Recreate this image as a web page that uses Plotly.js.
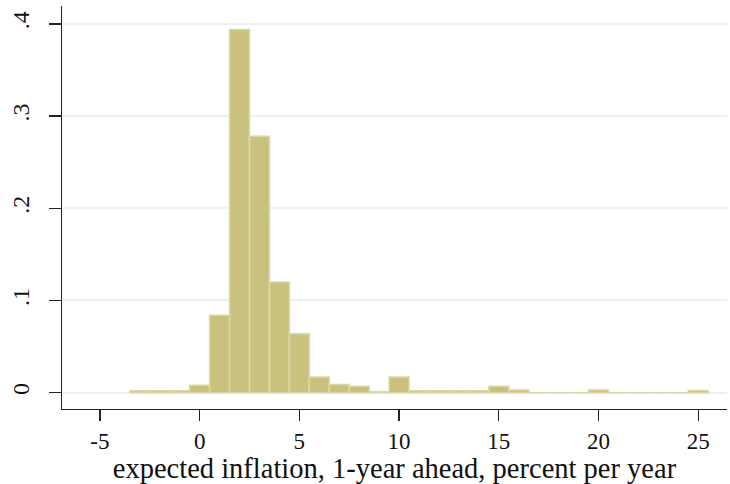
<!DOCTYPE html>
<html>
<head>
<meta charset="utf-8">
<script src="https://cdn.plot.ly/plotly-3.0.1.min.js"></script>
<style>html,body{margin:0;padding:0;background:#fff;}#chart{width:730px;height:484px;}</style>
</head>
<body>
<div id="chart"></div>
<script>
// bin centers (width 1) and density values
const binCenters = [-3, -2, -1, 0, 1, 2, 3, 4, 5, 6, 7, 8, 9, 10, 11, 12, 13, 14, 15, 16, 17, 18, 19, 20, 21, 22, 23, 24, 25];
const density = [0.002, 0.002, 0.002, 0.008, 0.084, 0.394, 0.278, 0.120, 0.064, 0.017, 0.009, 0.007, 0.001, 0.017, 0.002, 0.002, 0.002, 0.002, 0.007, 0.003, 0, 0, 0, 0.003, 0, 0, 0, 0, 0.0025];
const xTickVals = [-5, 0, 5, 10, 15, 20, 25];
const xTickText = ["-5", "0", "5", "10", "15", "20", "25"];
const yTickVals = [0, 0.1, 0.2, 0.3, 0.4];
const yTickText = ["0", ".1", ".2", ".3", ".4"];
const xTitle = "expected inflation, 1-year ahead, percent per year";

const serif = "Liberation Serif, Times New Roman, serif";

const trace = {
  type: "bar",
  x: binCenters,
  y: density,
  width: 1,
  marker: {color: "#c9c27f", line: {color: "#dcd7a6", width: 1.5}},
  hoverinfo: "skip"
};

const layout = {
  width: 730, height: 484,
  margin: {l: 62, r: 3, t: 6, b: 75, pad: 0},
  paper_bgcolor: "#ffffff",
  plot_bgcolor: "#ffffff",
  showlegend: false,
  bargap: 0,
  xaxis: {
    range: [-6.9, 26.44],
    tickvals: xTickVals, ticktext: xTickText,
    ticks: "outside", ticklen: 11, tickwidth: 1.3, tickcolor: "#222",
    showline: true, linecolor: "#222", linewidth: 1.3,
    showgrid: false, zeroline: false,
    tickfont: {family: serif, size: 23, color: "#111"},
    title: {text: xTitle, font: {family: serif, size: 28.5, color: "#111"}, standoff: 4}
  },
  yaxis: {
    range: [-0.0177, 0.4194],
    tickvals: yTickVals, ticktext: yTickText,
    tickangle: -90,
    ticks: "outside", ticklen: 12, tickwidth: 1.3, tickcolor: "#222",
    ticklabelstandoff: 10,
    showline: true, linecolor: "#222", linewidth: 1.3,
    showgrid: true, gridcolor: "#eaf2f3", gridwidth: 2,
    zeroline: false,
    tickfont: {family: serif, size: 24, color: "#111"}
  }
};

Plotly.newPlot("chart", [trace], layout, {displayModeBar: false, staticPlot: true});
</script>
</body>
</html>
